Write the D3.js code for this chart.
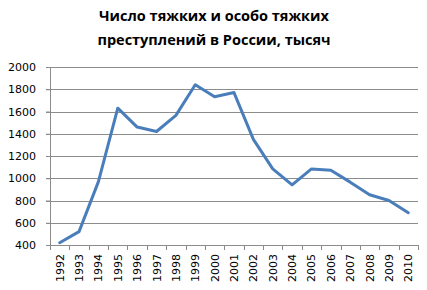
<!DOCTYPE html>
<html>
<head>
<meta charset="utf-8">
<script src="https://cdn.jsdelivr.net/npm/d3@7"></script>
<style>
  body { margin: 0; background: #fff; }
  svg { display: block; }
</style>
</head>
<body>
<svg id="chart"></svg>
<script>
// years along the x axis
const years = ['1992', '1993', '1994', '1995', '1996', '1997', '1998', '1999', '2000', '2001',
  '2002', '2003', '2004', '2005', '2006', '2007', '2008', '2009', '2010'];
// thousands of grave and especially grave crimes
const crimes = [420, 520, 970, 1630, 1460, 1420, 1565, 1840, 1733, 1770,
  1350, 1084, 940, 1084, 1072, 965, 852, 800, 690];
const yTicks = [400, 600, 800, 1000, 1200, 1400, 1600, 1800, 2000];
const titleLines = ['Число тяжких и особо тяжких', 'преступлений в России, тысяч'];

const width = 427;
const height = 290;
const margin = { top: 67, right: 9, bottom: 45, left: 50 };
const plotW = width - margin.left - margin.right;
const plotH = height - margin.top - margin.bottom;

const svg = d3.select('#chart')
  .attr('width', width)
  .attr('height', height);

// title
svg.append('text')
  .attr('x', 214)
  .attr('y', 21)
  .attr('text-anchor', 'middle')
  .style('font-family', 'Open Sans, sans-serif')
  .style('font-weight', 'bold')
  .style('font-size', '14.5px')
  .selectAll('tspan')
  .data(titleLines)
  .enter()
  .append('tspan')
  .attr('x', 214)
  .attr('dy', (d, i) => i === 0 ? 0 : 24)
  .text(d => d);

const xScale = d3.scaleBand()
  .domain(years)
  .range([0, plotW]);
const yScale = d3.scaleLinear()
  .domain([400, 2000])
  .range([plotH, 0]);

const g = svg.append('g')
  .attr('transform', `translate(${margin.left},${margin.top})`);

// horizontal gridlines
g.append('g')
  .selectAll('line')
  .data(yTicks)
  .enter()
  .append('line')
  .attr('x1', -4)
  .attr('x2', plotW)
  .attr('y1', d => Math.round(yScale(d)) + 0.5)
  .attr('y2', d => Math.round(yScale(d)) + 0.5)
  .attr('stroke', '#8c8c8c')
  .attr('stroke-width', 1);

// y axis
const yAxis = d3.axisLeft(yScale)
  .tickValues(yTicks)
  .tickFormat(d3.format('d'))
  .tickSize(4)
  .tickPadding(10);
const yAxisDraw = g.append('g').call(yAxis);
yAxisDraw.select('.domain').attr('stroke', '#8c8c8c');
yAxisDraw.selectAll('.tick line').attr('stroke', '#8c8c8c');
yAxisDraw.selectAll('text')
  .style('font-family', 'DejaVu Sans, sans-serif')
  .style('font-size', '11px')
  .attr('fill', '#000');

// x axis with ticks at band boundaries
const xAxisDraw = g.append('g')
  .attr('transform', `translate(0,${plotH})`);
xAxisDraw.append('line')
  .attr('x1', 0).attr('x2', plotW)
  .attr('y1', 0.5).attr('y2', 0.5)
  .attr('stroke', '#8c8c8c');
xAxisDraw.selectAll('.xtick')
  .data(years.concat(['end']))
  .enter()
  .append('line')
  .attr('class', 'xtick')
  .attr('x1', (d, i) => Math.round(i < years.length ? xScale(d) : plotW) + 0.5)
  .attr('x2', (d, i) => Math.round(i < years.length ? xScale(d) : plotW) + 0.5)
  .attr('y1', 0)
  .attr('y2', 5)
  .attr('stroke', '#8c8c8c');
xAxisDraw.selectAll('.xlabel')
  .data(years)
  .enter()
  .append('text')
  .attr('class', 'xlabel')
  .attr('transform', d => `translate(${xScale(d) + xScale.bandwidth() / 2 + 4},9) rotate(-90)`)
  .attr('text-anchor', 'end')
  .style('font-family', 'DejaVu Sans, sans-serif')
  .style('font-size', '11px')
  .text(d => d);

// data line
const line = d3.line()
  .x((d, i) => xScale(years[i]) + xScale.bandwidth() / 2)
  .y(d => yScale(d));
g.append('path')
  .datum(crimes)
  .attr('d', line)
  .attr('fill', 'none')
  .attr('stroke', '#4a7ebb')
  .attr('stroke-width', 3)
  .attr('stroke-linejoin', 'round')
  .attr('stroke-linecap', 'round');
</script>
</body>
</html>
